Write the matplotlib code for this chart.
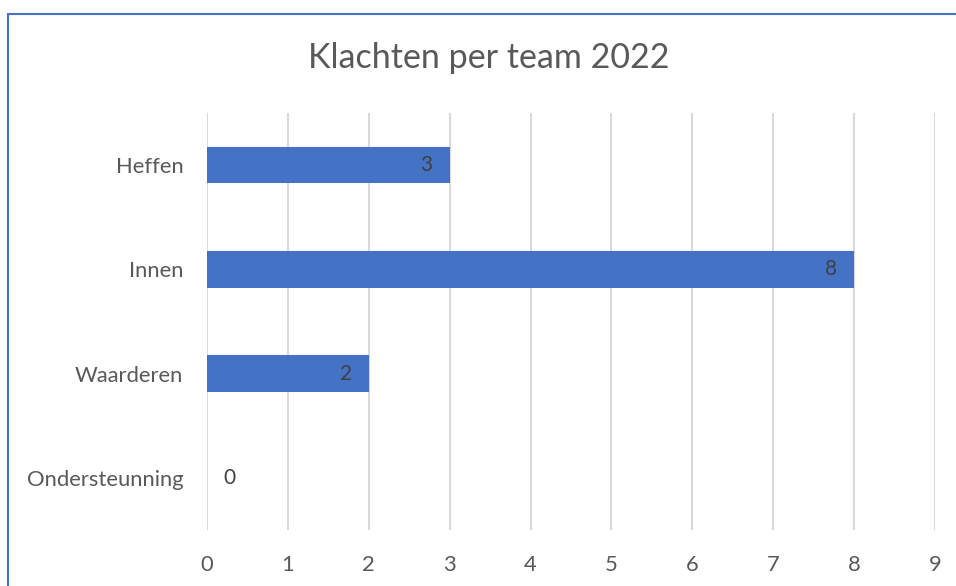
import matplotlib
matplotlib.use("Agg")
import matplotlib.pyplot as plt
from matplotlib.patches import Rectangle

teams = ["Heffen", "Innen", "Waarderen", "Ondersteunning"]
klachten = [3, 8, 2, 0]
x_ticks = list(range(0, 10))
title = "Klachten per team 2022"

BAR = "#4472C4"
GRID = "#D9D9D9"
TXT = "#595959"

plt.rcParams["font.family"] = ["Lato", "DejaVu Sans"]

fig = plt.figure(figsize=(9.56, 5.86), dpi=100)
ax = fig.add_axes([207 / 956, 1 - 530 / 586, 728 / 956, 417 / 586])

pos = list(range(len(teams)))[::-1]  # first category at top
ax.barh(pos, klachten, height=0.35, color=BAR, zorder=2)

for y, v in zip(pos, klachten):
    dx = -23 if v > 0 else 22
    ax.annotate(str(v), (v, y), xytext=(dx, 0), textcoords="offset pixels",
                ha="center", va="center", fontsize=15, color="#404040", zorder=3)

ax.set_xlim(0, 9)
ax.set_ylim(-0.5, len(teams) - 0.5)
ax.set_xticks(x_ticks)
ax.set_yticks(pos)
ax.set_yticklabels(teams)
ax.grid(axis="x", color=GRID, linewidth=1.5, zorder=0)
ax.set_axisbelow(True)
for s in ax.spines.values():
    s.set_visible(False)
ax.tick_params(axis="both", length=0, labelsize=15.8, labelcolor=TXT)
ax.tick_params(axis="y", pad=17)
ax.tick_params(axis="x", pad=18)

fig.text(489 / 956, 1 - 58 / 586, title, ha="center", va="center",
         fontsize=24.5, color=TXT)

# chart-area border (right and bottom run off the crop)
fig.patches.append(Rectangle((8 / 956, -0.1), 1.2, 1 - 14 / 586 + 0.1,
                             transform=fig.transFigure, fill=False,
                             edgecolor="#4472C4", linewidth=1.5))

fig.savefig("out.png", dpi=100, facecolor="white")
